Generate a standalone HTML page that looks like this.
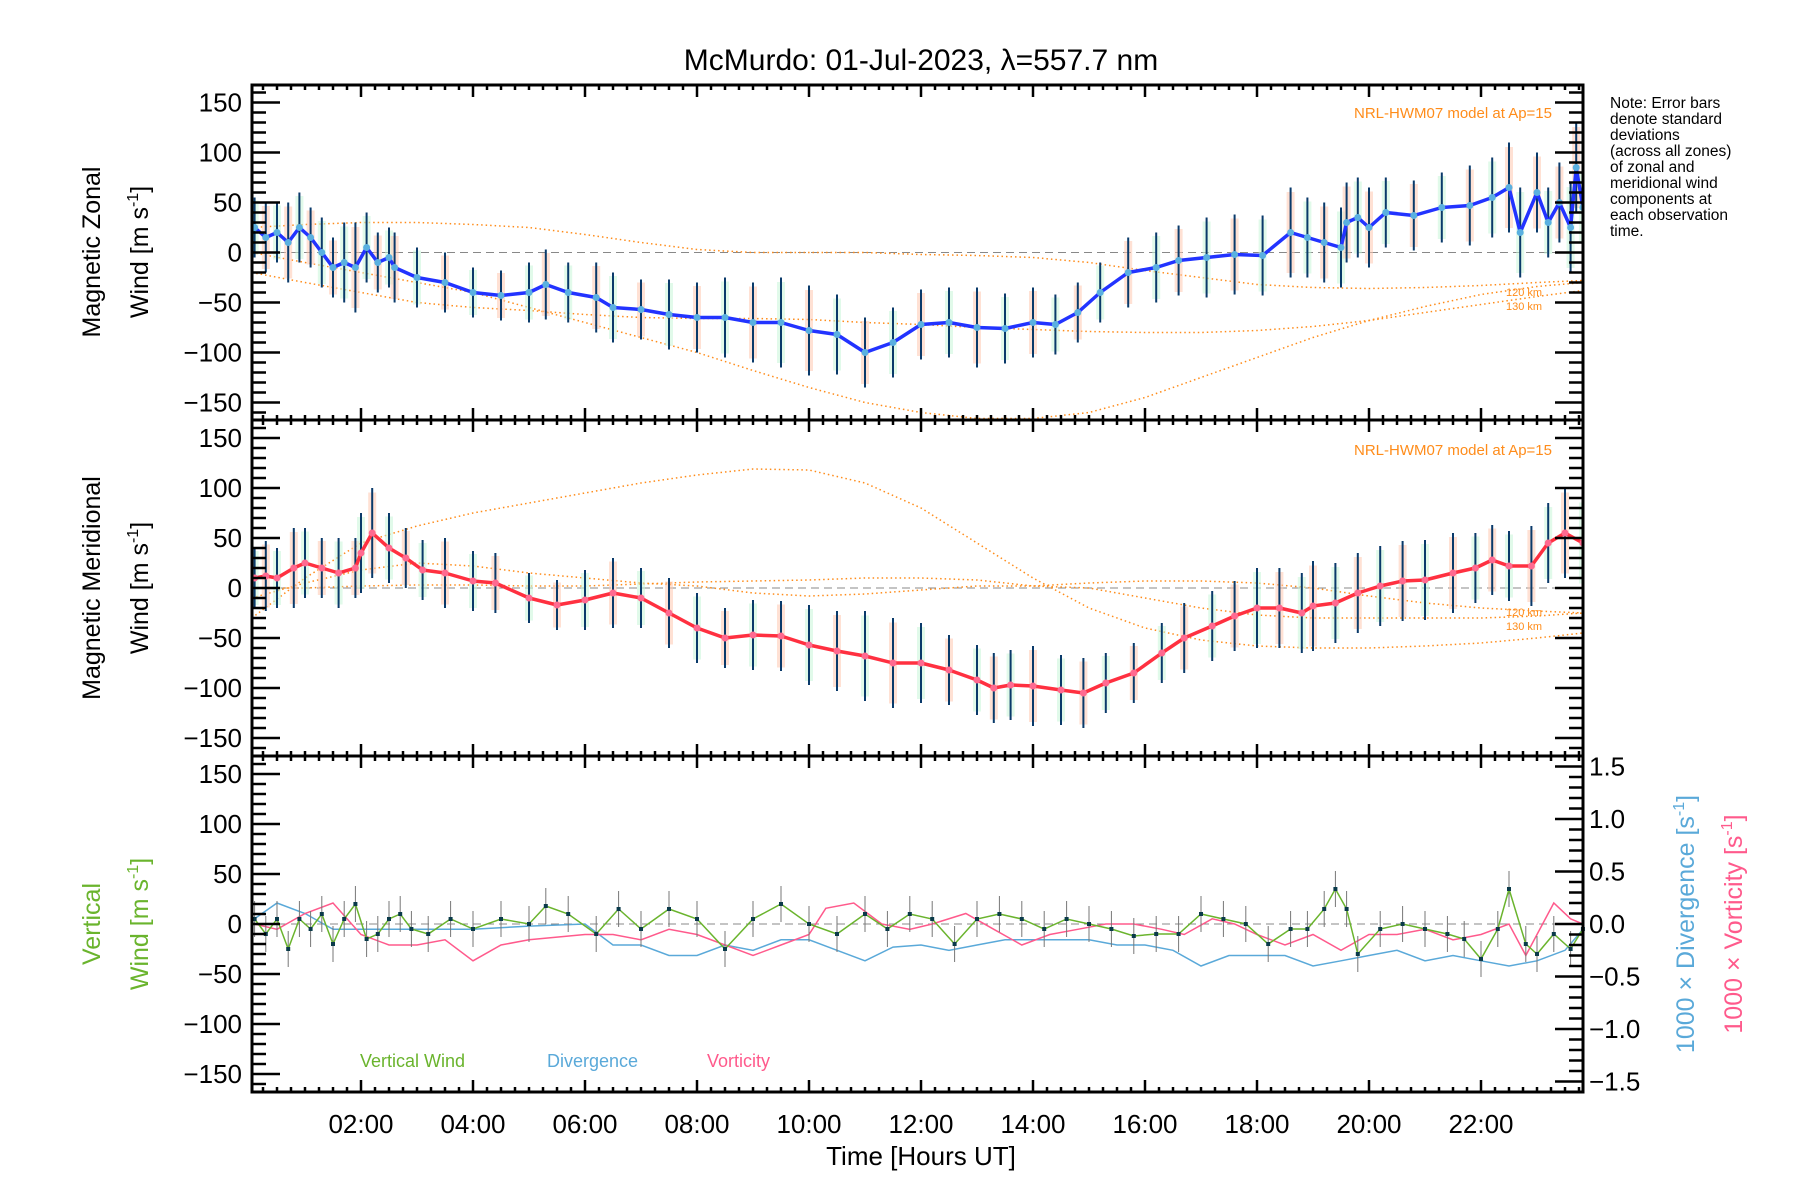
<!DOCTYPE html>
<html><head><meta charset="utf-8"><style>
html,body{margin:0;padding:0;background:#fff;}
svg{display:block;font-family:"Liberation Sans",sans-serif;}
</style></head><body>
<svg id="chart" width="1800" height="1200" viewBox="0 0 1800 1200" xmlns="http://www.w3.org/2000/svg">
<text x="921" y="70" font-size="30" text-anchor="middle">McMurdo: 01-Jul-2023, λ=557.7 nm</text>
<g id="layer"></g>
<text transform="translate(100,252) rotate(-90)" font-size="25" text-anchor="middle">Magnetic Zonal</text>
<text transform="translate(148,252) rotate(-90)" font-size="25" text-anchor="middle">Wind [m s<tspan font-size="16" dy="-10">-1</tspan><tspan dy="10">]</tspan></text>
<text transform="translate(100,588) rotate(-90)" font-size="25" text-anchor="middle">Magnetic Meridional</text>
<text transform="translate(148,588) rotate(-90)" font-size="25" text-anchor="middle">Wind [m s<tspan font-size="16" dy="-10">-1</tspan><tspan dy="10">]</tspan></text>
<text transform="translate(100,924) rotate(-90)" font-size="25" fill="#6ab42d" text-anchor="middle">Vertical</text>
<text transform="translate(148,924) rotate(-90)" font-size="25" fill="#6ab42d" text-anchor="middle">Wind [m s<tspan font-size="16" dy="-10">-1</tspan><tspan dy="10">]</tspan></text>
<text transform="translate(1694,924) rotate(-90)" font-size="25" fill="#5aa9d9" text-anchor="middle">1000 × Divergence [s<tspan font-size="16" dy="-10">-1</tspan><tspan dy="10">]</tspan></text>
<text transform="translate(1742,924) rotate(-90)" font-size="25" fill="#ff5a8c" text-anchor="middle">1000 × Vorticity [s<tspan font-size="16" dy="-10">-1</tspan><tspan dy="10">]</tspan></text>
<text x="921" y="1165" font-size="26" text-anchor="middle">Time [Hours UT]</text>
<text x="1552" y="118" font-size="15" fill="#ff8c1a" text-anchor="end">NRL-HWM07 model at Ap=15</text>
<text x="1552" y="455" font-size="15" fill="#ff8c1a" text-anchor="end">NRL-HWM07 model at Ap=15</text>
<text x="1506" y="296" font-size="11" fill="#ff8c1a">120 km</text>
<text x="1506" y="310" font-size="11" fill="#ff8c1a">130 km</text>
<text x="1506" y="616" font-size="11" fill="#ff8c1a">120 km</text>
<text x="1506" y="630" font-size="11" fill="#ff8c1a">130 km</text>
<text x="360" y="1067" font-size="18" fill="#6ab42d">Vertical Wind</text>
<text x="547" y="1067" font-size="18" fill="#5aa9d9">Divergence</text>
<text x="707" y="1067" font-size="18" fill="#ff5a8c">Vorticity</text>
<text font-size="15.5">
<tspan x="1610" y="108">Note: Error bars</tspan><tspan x="1610" y="124">denote standard</tspan><tspan x="1610" y="140">deviations</tspan><tspan x="1610" y="156">(across all zones)</tspan><tspan x="1610" y="172">of zonal and</tspan><tspan x="1610" y="188">meridional wind</tspan><tspan x="1610" y="204">components at</tspan><tspan x="1610" y="220">each observation</tspan><tspan x="1610" y="236">time.</tspan></text>
</svg>
<script>
const zonalT=[0.1,0.3,0.5,0.7,0.9,1.1,1.3,1.5,1.7,1.9,2.1,2.3,2.5,2.6,3.0,3.5,4.0,4.5,5.0,5.3,5.7,6.2,6.5,7.0,7.5,8.0,8.5,9.0,9.5,10.0,10.5,11.0,11.5,12.0,12.5,13.0,13.5,14.0,14.4,14.8,15.2,15.7,16.2,16.6,17.1,17.6,18.1,18.6,18.9,19.2,19.5,19.6,19.8,20.0,20.3,20.8,21.3,21.8,22.2,22.5,22.7,23.0,23.2,23.4,23.6,23.7,23.82];
const zonalV=[25,15,20,10,25,15,0,-15,-10,-15,5,-10,-5,-15,-25,-30,-40,-43,-40,-32,-40,-45,-55,-57,-62,-65,-65,-70,-70,-78,-82,-100,-90,-72,-70,-75,-76,-70,-72,-60,-40,-20,-15,-8,-5,-2,-3,20,15,10,5,30,35,25,40,37,45,47,55,65,20,60,30,50,25,85,45];
const meridT=[0.1,0.3,0.5,0.8,1.0,1.3,1.6,1.9,2.0,2.2,2.5,2.8,3.1,3.5,4.0,4.4,5.0,5.5,6.0,6.5,7.0,7.5,8.0,8.5,9.0,9.5,10.0,10.5,11.0,11.5,12.0,12.5,13.0,13.3,13.6,14.0,14.5,14.9,15.3,15.8,16.3,16.7,17.2,17.6,18.0,18.4,18.8,19.0,19.4,19.8,20.2,20.6,21.0,21.5,21.9,22.2,22.5,22.9,23.2,23.5,23.82];
const meridV=[10,12,10,20,25,20,15,20,35,55,40,30,18,15,7,5,-10,-17,-12,-5,-10,-25,-40,-50,-47,-48,-57,-63,-68,-75,-75,-82,-92,-100,-97,-98,-102,-105,-95,-85,-65,-50,-38,-28,-20,-20,-25,-18,-15,-5,2,7,8,15,20,28,22,22,45,55,45];
const errLen=[30,35,30,40,35,30,35,30,40,45,35,30,30,35,30,30,25,25,30,35,30,35,35,30,35,35,40,40,45,45,40,35,35,35,35,40,35,35,30,30,30,35,35,35,40,40,40,45,40,40,40,40,40,40,35,35,35,40,40,45,45,40,35,40,45,45,40];
const vertT=[0.1,0.3,0.5,0.7,0.9,1.1,1.3,1.5,1.7,1.9,2.1,2.3,2.5,2.7,2.9,3.2,3.6,4.0,4.5,5.0,5.3,5.7,6.2,6.6,7.0,7.5,8.0,8.5,9.0,9.5,10.0,10.5,11.0,11.4,11.8,12.2,12.6,13.0,13.4,13.8,14.2,14.6,15.0,15.4,15.8,16.2,16.6,17.0,17.4,17.8,18.2,18.6,18.9,19.2,19.4,19.6,19.8,20.2,20.6,21.0,21.4,21.7,22.0,22.3,22.5,22.8,23.0,23.3,23.6,23.82];
const vertV=[5,-10,5,-25,5,-5,10,-20,5,20,-15,-10,5,10,-5,-10,5,-5,5,0,18,10,-10,15,-5,15,5,-25,5,20,0,-10,10,-5,10,5,-20,5,10,5,-5,5,0,-5,-12,-10,-10,10,5,0,-20,-5,-5,15,35,15,-30,-5,0,-5,-10,-15,-35,-5,35,-20,-30,-10,-25,-5];
const divT=[0.1,0.5,1.0,1.5,2.0,2.5,3.0,4.0,5.0,6.0,6.5,7.0,7.5,8.0,8.5,9.0,9.5,10.0,10.5,11.0,11.5,12.0,12.5,13.0,13.5,14.0,14.5,15.0,15.5,16.0,16.5,17.0,17.5,18.0,18.5,19.0,19.5,20.0,20.5,21.0,21.5,22.0,22.5,23.0,23.5,23.82];
const divV=[0.05,0.2,0.1,-0.05,-0.05,-0.05,-0.05,-0.05,-0.02,0.0,-0.2,-0.2,-0.3,-0.3,-0.2,-0.25,-0.15,-0.15,-0.25,-0.35,-0.22,-0.2,-0.25,-0.2,-0.15,-0.15,-0.15,-0.15,-0.2,-0.2,-0.25,-0.4,-0.3,-0.3,-0.3,-0.4,-0.35,-0.3,-0.25,-0.35,-0.3,-0.35,-0.4,-0.35,-0.25,-0.05];
const vorT=[0.1,0.5,1.0,1.5,2.0,2.5,3.0,3.5,4.0,4.5,5.0,6.0,6.5,7.0,7.5,8.0,9.0,9.5,10.0,10.3,10.8,11.3,11.8,12.2,12.8,13.3,13.8,14.3,14.8,15.3,15.8,16.3,16.7,17.2,17.6,18.0,18.5,19.0,19.5,20.0,20.5,21.0,21.5,22.0,22.5,22.8,23.0,23.3,23.6,23.82];
const vorV=[0.0,-0.05,0.1,0.2,-0.1,-0.2,-0.2,-0.15,-0.35,-0.2,-0.15,-0.1,-0.1,-0.15,-0.05,-0.1,-0.3,-0.2,-0.1,0.15,0.2,0.0,-0.05,0.0,0.1,-0.05,-0.2,-0.1,-0.05,0.0,0.0,-0.05,-0.1,0.05,0.0,-0.1,-0.2,-0.1,-0.25,-0.1,-0.1,-0.05,-0.15,-0.1,0.0,-0.3,-0.1,0.2,0.05,0.0];
const modelT=[0.05,1,2,3,4,5,6,7,8,9,10,11,12,13,14,15,16,17,18,19,20,21,22,23,23.82];
const zModelA=[25,28,30,30,28,25,18,10,3,0,0,0,-2,-3,-5,-10,-18,-25,-32,-35,-36,-35,-33,-30,-28];
const zModelB=[-20,-30,-40,-50,-55,-58,-62,-65,-66,-66,-67,-70,-72,-75,-77,-79,-80,-80,-78,-74,-68,-60,-52,-44,-38];
const zModelC=[0,-10,-20,-30,-40,-55,-70,-85,-100,-118,-135,-150,-160,-166,-166,-160,-145,-125,-105,-85,-68,-54,-42,-34,-30];
const mModelA=[-30,10,45,62,75,85,95,105,113,119,118,105,80,45,10,-20,-40,-52,-58,-60,-60,-58,-55,-50,-45];
const mModelB=[-10,5,18,25,22,15,10,5,2,-5,-8,-6,-2,2,2,0,-10,-20,-27,-30,-30,-30,-30,-28,-25];
const mModelC=[0,0,2,3,3,2,2,4,6,7,8,10,10,8,2,5,7,7,5,0,-8,-15,-20,-23,-25];
const xTicks=["02:00","04:00","06:00","08:00","10:00","12:00","14:00","16:00","18:00","20:00","22:00"];
const xTickHours=[2,4,6,8,10,12,14,16,18,20,22];
const yTicks=[150,100,50,0,-50,-100,-150];
const rTicks=["1.5","1.0","0.5","0.0","-0.5","-1.0","-1.5"];
const rTickVals=[1.5,1.0,0.5,0.0,-0.5,-1.0,-1.5];

const NS="http://www.w3.org/2000/svg";
const layer=document.getElementById('layer');
const L=252,R=1583,T0=249,PXH=56;
const panels=[{top:85,bot:420},{top:420,bot:756},{top:756,bot:1092}];
function xS(t){return T0+PXH*t;}
function yS(p,v){const c=(panels[p].top+panels[p].bot)/2;return c-v;}
const RSCALE=105;
function mk(tag,attrs,parent){const e=document.createElementNS(NS,tag);for(const k in attrs)e.setAttribute(k,attrs[k]);(parent||layer).appendChild(e);return e;}
function path(ts,vs,p,f){let d='';ts.forEach((t,i)=>{d+=(i?'L':'M')+xS(t).toFixed(1)+','+yS(p,f?f(vs[i]):vs[i]).toFixed(1);});return d;}

// clip paths
panels.forEach((pp,i)=>{const cp=mk('clipPath',{id:'clip'+i});mk('rect',{x:L,y:pp.top,width:R-L,height:pp.bot-pp.top},cp);});

// zero lines
panels.forEach((pp,i)=>{
 const z=mk('line',{x1:L,x2:R,y1:yS(i,0),y2:yS(i,0),stroke:'#888','stroke-dasharray':'8,5','stroke-width':1});
 
 
});

// model curves
[[0,zModelA],[0,zModelB],[0,zModelC],[1,mModelA],[1,mModelB],[1,mModelC]].forEach(([p,arr])=>{
 const m=mk('path',{d:path(modelT,arr,p),fill:'none',stroke:'#ff8c1a','stroke-width':1.5,'stroke-dasharray':'1.5,3','clip-path':'url(#clip'+p+')'});
 
 
});

// error bars and pale scatter
function drawSeries(p,ts,vs,lineCol,dotCol,name){
 const g=mk('g',{'clip-path':'url(#clip'+p+')'});
 
 
 ts.forEach((t,i)=>{
  const x=xS(t),y=yS(p,vs[i]),e=errLen[i%errLen.length];
  mk('rect',{x:x-4,y:y-e*0.9,width:8,height:e*1.8,fill:i%2?'#ffc8b0':'#c8f5d8',opacity:0.55},g);
  const b=mk('line',{x1:x,x2:x,y1:y-e,y2:y+e,stroke:'#0a3a6a','stroke-width':2},g);
  
  
 });
 const l=mk('path',{d:path(ts,vs,p),fill:'none',stroke:lineCol,'stroke-width':3.5,'stroke-linejoin':'round'},g);
 
 
 ts.forEach((t,i)=>{
  const c=mk('circle',{cx:xS(t),cy:yS(p,vs[i]),r:3.5,fill:dotCol},g);
  
  
 });
}
drawSeries(0,zonalT,zonalV,'#2233ff','#5ab0e0','zonal-wind');
drawSeries(1,meridT,meridV,'#ff3040','#ff6a90','meridional-wind');

// panel 3
const dv=mk('path',{d:path(divT,divV,2,v=>v*RSCALE),fill:'none',stroke:'#5aa9d9','stroke-width':1.5,'clip-path':'url(#clip2)'});


const vo=mk('path',{d:path(vorT,vorV,2,v=>v*RSCALE),fill:'none',stroke:'#ff5a8c','stroke-width':1.5,'clip-path':'url(#clip2)'});


vertT.forEach((t,i)=>{
 const e=mk('line',{x1:xS(t),x2:xS(t),y1:yS(2,vertV[i])-18,y2:yS(2,vertV[i])+18,stroke:'#777','stroke-width':1});
 
 
});
const vw=mk('path',{d:path(vertT,vertV,2),fill:'none',stroke:'#6ab42d','stroke-width':1.5});


vertT.forEach((t,i)=>{
 const c=mk('rect',{x:xS(t)-2,y:yS(2,vertV[i])-2,width:4,height:4,fill:'#0a3a4a'});
 
 
});

// frames and ticks
panels.forEach((pp,p)=>{
 const f=mk('rect',{x:L,y:pp.top,width:R-L,height:pp.bot-pp.top,fill:'none',stroke:'#000','stroke-width':3});
 
 
 for(let q=1;q<96;q++){const t=q/4;const x=xS(t);if(x<=L||x>=R)continue;const len=(q%8===0)?12:5;
  mk('line',{x1:x,x2:x,y1:pp.top,y2:pp.top+len,stroke:'#000','stroke-width':2.5});
  mk('line',{x1:x,x2:x,y1:pp.bot,y2:pp.bot-len,stroke:'#000','stroke-width':2.5});}
 for(let v=-160;v<=160;v+=10){const y=yS(p,v);if(y<=pp.top+1||y>=pp.bot-1)continue;const len=(v%50===0)?28:14;
  mk('line',{x1:L,x2:L+len,y1:y,y2:y,stroke:'#000','stroke-width':2.5});
  if(p<2) mk('line',{x1:R,x2:R-len,y1:y,y2:y,stroke:'#000','stroke-width':2.5});}
 yTicks.forEach(v=>{const tx=mk('text',{x:L-10,y:yS(p,v)+9,'font-size':26,'text-anchor':'end'});tx.textContent=(v<0?'−':'')+Math.abs(v);
  
  });
});
// right axis panel 3
for(let v=-1.5;v<=1.51;v+=0.1){const y=yS(2,v*RSCALE);const major=Math.abs(Math.round(v*10))%5===0;
 mk('line',{x1:R,x2:R-(major?28:14),y1:y,y2:y,stroke:'#000','stroke-width':2.5});}
rTickVals.forEach((v,i)=>{const tx=mk('text',{x:R+6,y:yS(2,v*RSCALE)+9,'font-size':26});tx.textContent=rTicks[i].replace('-','−');
 
 });
xTickHours.forEach((h,i)=>{const tx=mk('text',{x:xS(h),y:1133,'font-size':26,'text-anchor':'middle'});tx.textContent=xTicks[i];
 
 });
</script>
</body></html>
